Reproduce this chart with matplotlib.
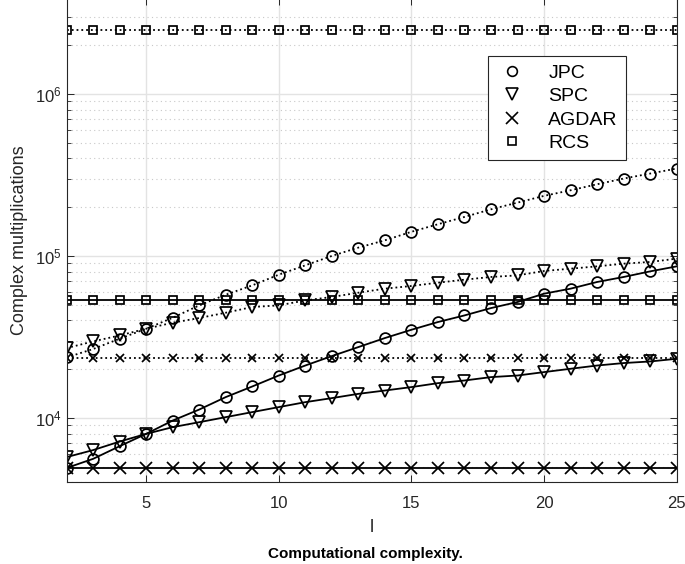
import numpy as np
import matplotlib
matplotlib.use("Agg")
import matplotlib.pyplot as plt
from matplotlib.lines import Line2D
from matplotlib.ticker import LogLocator, NullFormatter

plt.rcParams['font.family'] = ['Liberation Sans', 'DejaVu Sans']
plt.rcParams['mathtext.fontset'] = 'custom'
plt.rcParams['mathtext.rm'] = 'Liberation Sans'

# number of layers l
L = np.arange(2, 26)

# values (dotted = upper group, solid = lower group)
jpc_dot = [23600, 26600, 30800, 35500, 41500, 49500, 57600, 65800, 76600, 87500,
           100000, 112600, 124900, 141000, 157000, 174200, 194100, 213600, 235000,
           254500, 277300, 300700, 322800, 346800]
jpc_sol = [4900, 5580, 6680, 7960, 9620, 11250, 13430, 15620, 18260, 21050,
           24070, 27360, 31110, 35000, 39070, 42920, 47650, 51950, 58470,
           62800, 69060, 74160, 80320, 86240]
spc_dot = [26970, 29640, 32280, 35510, 38690, 41360, 44600, 48370, 49500, 53140,
           55780, 59300, 62800, 65240, 68390, 71360, 74160, 75860, 80760,
           83440, 86240, 89630, 91820, 96220]
spc_sol = [5720, 6320, 7135, 7960, 8760, 9400, 10100, 10850, 11650, 12500,
           13240, 14070, 14750, 15490, 16380, 17010, 17850, 18260, 19170,
           20100, 21050, 21800, 22300, 23170]
agdar_dot = [23400] * len(L)
agdar_sol = [4900] * len(L)
rcs_dot = [2500000] * len(L)
rcs_sol = [53500] * len(L)

fig = plt.figure(figsize=(6.85, 5.64), dpi=100)
ax = fig.add_axes([0.0971, 0.1449, 0.8908, 0.858])

lw = 1.3
ms_kw = dict(color='black', markerfacecolor='none', markeredgewidth=1.25, linewidth=lw)

ax.plot(L, rcs_dot, linestyle=':', marker='s', markersize=6.3, **ms_kw)
ax.plot(L, rcs_sol, linestyle='-', marker='s', markersize=6, **ms_kw)
ax.plot(L, jpc_dot, linestyle=':', marker='o', markersize=7.8, **ms_kw)
ax.plot(L, jpc_sol, linestyle='-', marker='o', markersize=7.8, **ms_kw)
ax.plot(L, spc_dot, linestyle=':', marker='v', markersize=9, **ms_kw)
ax.plot(L, spc_sol, linestyle='-', marker='v', markersize=9, **ms_kw)
ax.plot(L, agdar_dot, linestyle=':', marker='x', markersize=6, **ms_kw)
ax.plot(L, agdar_sol, linestyle='-', marker='x', markersize=9, **ms_kw)

ax.set_yscale('log')
ax.set_xlim(2, 25)
ax.set_ylim(4000, 3.9e6)
ax.set_xticks([5, 10, 15, 20, 25])
ax.yaxis.set_major_locator(LogLocator(base=10, numticks=10))
ax.yaxis.set_minor_locator(LogLocator(base=10, subs=np.arange(2, 10), numticks=20))
ax.yaxis.set_minor_formatter(NullFormatter())

ax.grid(True, which='major', color='#e3e3e3', linestyle='-', linewidth=1.0)
ax.grid(True, which='minor', axis='y', color='#c8c8c8', linestyle=(0, (1, 3)), linewidth=0.8)
ax.set_axisbelow(True)

ax.tick_params(which='both', direction='in', top=True, right=True, labelsize=12, colors='#262626')
ax.tick_params(which='major', length=5, width=0.7)
ax.tick_params(which='minor', length=3, width=0.6)
ax.tick_params(axis='x', pad=10)
for sp in ax.spines.values():
    sp.set_color('#262626')
    sp.set_linewidth(0.8)

ax.set_xlabel('l', fontsize=13, color='#262626', labelpad=6)
ax.set_ylabel('Complex multiplications', fontsize=13, color='#262626', labelpad=5)

handles = [
    Line2D([], [], linestyle='none', marker='o', markersize=7, color='black', markerfacecolor='none', markeredgewidth=1.2),
    Line2D([], [], linestyle='none', marker='v', markersize=8, color='black', markerfacecolor='none', markeredgewidth=1.2),
    Line2D([], [], linestyle='none', marker='x', markersize=8, color='black', markerfacecolor='none', markeredgewidth=1.2),
    Line2D([], [], linestyle='none', marker='s', markersize=5.5, color='black', markerfacecolor='none', markeredgewidth=1.2),
]
leg = ax.legend(handles, ['JPC', 'SPC', 'AGDAR', 'RCS'], loc='upper left',
                bbox_to_anchor=(0.691, 0.88), fontsize=14, frameon=True,
                fancybox=False, edgecolor='#262626', framealpha=1,
                borderpad=0.4, labelspacing=0.3, handlelength=1.7, handletextpad=1.0,
                borderaxespad=0)
leg.get_frame().set_linewidth(0.8)

fig.text(0.533, 0.017, 'Computational complexity.', ha='center', va='center',
         fontsize=11, fontweight='bold')

fig.savefig('out.png', dpi=100)
